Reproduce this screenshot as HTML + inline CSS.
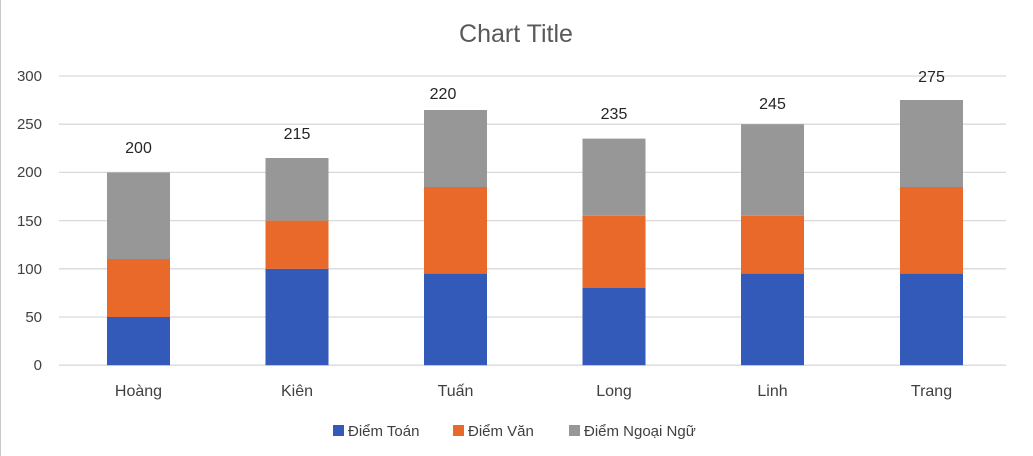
<!DOCTYPE html>
<html><head><meta charset="utf-8"><style>
html,body{margin:0;padding:0;background:#fff;}
svg{display:block;font-family:"Liberation Sans","DejaVu Sans",sans-serif;}
</style></head><body>
<svg width="1033" height="456" viewBox="0 0 1033 456">
<rect x="0" y="0" width="1033" height="456" fill="#fff"/>
<line x1="0.5" y1="0" x2="0.5" y2="456" stroke="#c8c8c8"/>
<text x="516" y="42" text-anchor="middle" font-size="25" fill="#595959">Chart Title</text>
<g stroke="#d9d9d9" stroke-width="1.3">
<line x1="59" y1="76" x2="1006" y2="76"/>
<line x1="59" y1="124.2" x2="1006" y2="124.2"/>
<line x1="59" y1="172.4" x2="1006" y2="172.4"/>
<line x1="59" y1="220.6" x2="1006" y2="220.6"/>
<line x1="59" y1="268.8" x2="1006" y2="268.8"/>
<line x1="59" y1="317" x2="1006" y2="317"/>
<line x1="59" y1="365.2" x2="1006" y2="365.2"/>
</g>
<g font-size="15" fill="#404040" text-anchor="end">
<text x="42" y="81">300</text><text x="42" y="129">250</text><text x="42" y="177">200</text>
<text x="42" y="226">150</text><text x="42" y="274">100</text><text x="42" y="322">50</text><text x="42" y="370">0</text>
</g>
<g>
<rect x="107" y="317" width="63" height="48.2" fill="#3359b9"/>
<rect x="107" y="259" width="63" height="58" fill="#e8692a"/>
<rect x="107" y="172.4" width="63" height="86.6" fill="#979797"/>
<rect x="265.5" y="268.8" width="63" height="96.4" fill="#3359b9"/>
<rect x="265.5" y="220.6" width="63" height="48.2" fill="#e8692a"/>
<rect x="265.5" y="158" width="63" height="62.6" fill="#979797"/>
<rect x="424" y="273.6" width="63" height="91.6" fill="#3359b9"/>
<rect x="424" y="187" width="63" height="86.6" fill="#e8692a"/>
<rect x="424" y="110" width="63" height="77" fill="#979797"/>
<rect x="582.5" y="288" width="63" height="77.2" fill="#3359b9"/>
<rect x="582.5" y="215.8" width="63" height="72.2" fill="#e8692a"/>
<rect x="582.5" y="138.6" width="63" height="77.2" fill="#979797"/>
<rect x="741" y="273.6" width="63" height="91.6" fill="#3359b9"/>
<rect x="741" y="215.8" width="63" height="57.8" fill="#e8692a"/>
<rect x="741" y="124.2" width="63" height="91.6" fill="#979797"/>
<rect x="900" y="273.6" width="63" height="91.6" fill="#3359b9"/>
<rect x="900" y="187" width="63" height="86.6" fill="#e8692a"/>
<rect x="900" y="100" width="63" height="87" fill="#979797"/>
</g>
<g font-size="16" fill="#262626" text-anchor="middle">
<text x="138.5" y="153">200</text>
<text x="297" y="139">215</text>
<text x="443" y="99">220</text>
<text x="614" y="119">235</text>
<text x="772.5" y="109">245</text>
<text x="931.5" y="82">275</text>
</g>
<g font-size="16" fill="#404040" text-anchor="middle">
<text x="138.5" y="396">Hoàng</text>
<text x="297" y="396">Kiên</text>
<text x="455.5" y="396">Tuấn</text>
<text x="614" y="396">Long</text>
<text x="772.5" y="396">Linh</text>
<text x="931.5" y="396">Trang</text>
</g>
<g font-size="15" fill="#404040">
<rect x="333" y="425" width="11" height="11" fill="#3359b9"/>
<text x="348" y="436">Điểm Toán</text>
<rect x="453" y="425" width="11" height="11" fill="#e8692a"/>
<text x="468" y="436">Điểm Văn</text>
<rect x="569" y="425" width="11" height="11" fill="#979797"/>
<text x="584" y="436">Điểm Ngoại Ngữ</text>
</g>
</svg>
</body></html>
